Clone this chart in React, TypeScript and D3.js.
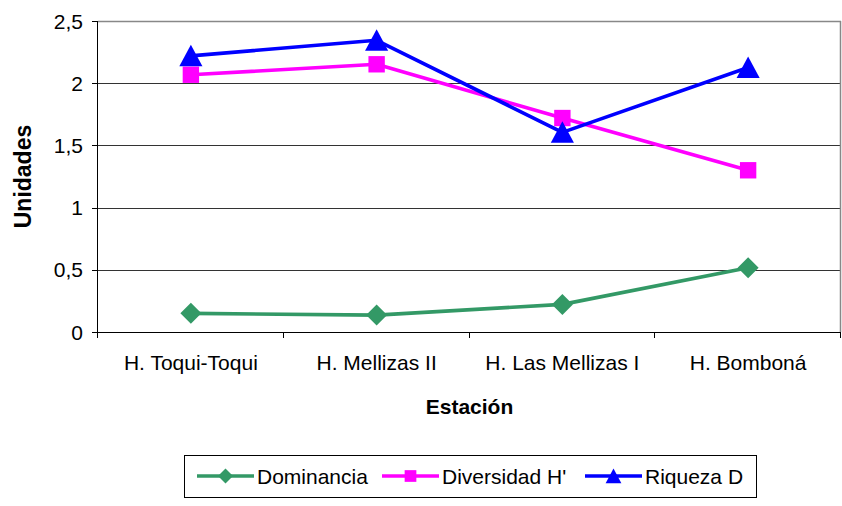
import React from "react";
import * as d3 from "d3";

const categories = ["H. Toqui-Toqui", "H. Mellizas II", "H. Las Mellizas I", "H. Bomboná"];
const dominancia = [0.15, 0.136, 0.222, 0.516];
const diversidad = [2.068, 2.152, 1.72, 1.3];
const riqueza = [2.22, 2.345, 1.605, 2.126];
const yTicks = [0, 0.5, 1, 1.5, 2, 2.5];
const yTickLabels = ["0", "0,5", "1", "1,5", "2", "2,5"];
const seriesNames = ["Dominancia", "Diversidad H'", "Riqueza D"];
const seriesColors = ["#339966", "#FF00FF", "#0000FF"];

const W = 842, H = 506;
const L = 98, T = 21, R = 841, B = 332;
const FONT = "'Liberation Sans', Arial, sans-serif";

function Marker({ kind, x, y, s, color }: { kind: number; x: number; y: number; s: number; color: string }) {
  if (kind === 0) {
    return <path d={`M${x},${y - s}L${x + s},${y}L${x},${y + s}L${x - s},${y}Z`} fill={color} />;
  }
  if (kind === 1) {
    const h = s * 0.78;
    return <rect x={x - h} y={y - h} width={2 * h} height={2 * h} fill={color} />;
  }
  const w = s * 1.05;
  return <path d={`M${x},${y - s}L${x + w},${y + s * 0.95}L${x - w},${y + s * 0.95}Z`} fill={color} />;
}

export default function App() {
  const x = d3.scaleBand<string>().domain(categories).range([L, R]);
  const y = d3.scaleLinear().domain([0, 2.5]).range([B, T]);
  const cx = (c: string) => (x(c) as number) + x.bandwidth() / 2;
  const series = [dominancia, diversidad, riqueza];
  const line = d3.line<number>().x((_, i) => cx(categories[i])).y((v) => y(v));
  const boundaries = categories.map((c) => x(c) as number).concat([R]);

  const legendItems = [
    { lx: 197, tx: 257 },
    { lx: 382, tx: 442 },
    { lx: 585, tx: 645 },
  ];

  return (
    <svg width={W} height={H} style={{ position: "absolute", left: 0, top: 0, background: "#fff" }} fontFamily={FONT}>
      {yTicks.filter((t) => t > 0 && t < 2.5).map((t) => (
        <line key={t} x1={L} x2={R} y1={Math.round(y(t)) + 0.5} y2={Math.round(y(t)) + 0.5} stroke="#333" strokeWidth={1} />
      ))}
      <line x1={L} x2={R} y1={Math.round(y(2.5)) + 0.5} y2={Math.round(y(2.5)) + 0.5} stroke="#888" strokeWidth={1.5} />
      <line x1={R - 0.5} x2={R - 0.5} y1={T} y2={B} stroke="#888" strokeWidth={1.5} />
      <line x1={L - 0.5} x2={L - 0.5} y1={T} y2={B + 6} stroke="#000" strokeWidth={1} />
      <line x1={L - 6} x2={R} y1={B + 0.5} y2={B + 0.5} stroke="#000" strokeWidth={1} />
      {yTicks.map((t) => (
        <line key={"yt" + t} x1={L - 6} x2={L} y1={Math.round(y(t)) + 0.5} y2={Math.round(y(t)) + 0.5} stroke="#000" />
      ))}
      {boundaries.map((b, i) => (
        <line key={"xt" + i} x1={Math.round(b) - 0.5} x2={Math.round(b) - 0.5} y1={B} y2={B + 6} stroke="#000" />
      ))}
      {yTicks.map((t, i) => (
        <text key={"yl" + t} x={83} y={y(t) + 7.5} textAnchor="end" fontSize={21} fill="#000">
          {yTickLabels[i]}
        </text>
      ))}
      {categories.map((c) => (
        <text key={c} x={cx(c)} y={370} textAnchor="middle" fontSize={21} fill="#000">
          {c}
        </text>
      ))}
      <text x={(L + R) / 2} y={414} textAnchor="middle" fontSize={21} fontWeight="bold">Estación</text>
      <text transform={`translate(31,${(T + B) / 2}) rotate(-90)`} textAnchor="middle" fontSize={23} fontWeight="bold">Unidades</text>
      {series.map((s, k) => (
        <g key={"s" + k}>
          <path d={line(s) || ""} fill="none" stroke={seriesColors[k]} strokeWidth={3.6} strokeLinejoin="round" />
          {s.map((v, i) => (
            <Marker key={i} kind={k} x={cx(categories[i])} y={y(v)} s={k === 2 ? 11 : 10.5} color={seriesColors[k]} />
          ))}
        </g>
      ))}
      <rect x={184.5} y={455.5} width={572} height={42} fill="#fff" stroke="#000" strokeWidth={1} />
      {seriesNames.map((n, k) => (
        <g key={n}>
          <line x1={legendItems[k].lx} x2={legendItems[k].lx + 57} y1={476} y2={476} stroke={seriesColors[k]} strokeWidth={3.6} />
          <Marker kind={k} x={legendItems[k].lx + 28.5} y={476} s={7.5} color={seriesColors[k]} />
          <text x={legendItems[k].tx} y={483.5} fontSize={21} fill="#000">{n}</text>
        </g>
      ))}
    </svg>
  );
}
